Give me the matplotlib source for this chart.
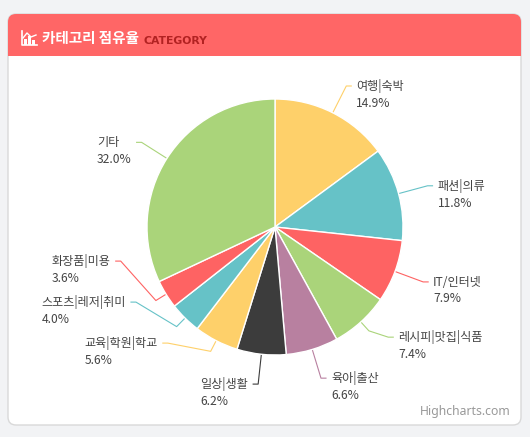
import numpy as np
import matplotlib
matplotlib.use('Agg')
import matplotlib.pyplot as plt
from matplotlib.patches import FancyBboxPatch, Rectangle

plt.rcParams['font.family'] = ['Noto Sans CJK KR', 'DejaVu Sans']

# Data
categories = ['여행|숙박', '패션|의류', 'IT/인터넷', '레시피|맛집|식품', '육아|출산',
              '일상|생활', '교육|학원|학교', '스포츠|레저|취미', '화장품|미용', '기타']
shares = [14.9, 11.8, 7.9, 7.4, 6.6, 6.2, 5.6, 4.0, 3.6, 32.0]
colors = ['#fed06a', '#66c2c7', '#fe6363', '#aad47a', '#b880a0',
          '#3c3c3c', '#fed06a', '#66c2c7', '#fe6363', '#aad47a']

# Layout (pixels, y measured from top)
W, H = 530, 437
cx, cy, r = 275, 227, 128
dist = 30
gap = 41


def Y(y):
    return H - y


fig = plt.figure(figsize=(W / 100, H / 100), dpi=100)
fig.patch.set_facecolor('#f2f3f5')
ax = fig.add_axes([0, 0, 1, 1])

# card + header
card = FancyBboxPatch((8, Y(425)), 513, 411, boxstyle='round,pad=0,rounding_size=8',
                      facecolor='white', edgecolor='#d9d9d9', linewidth=1, zorder=0)
ax.add_patch(card)
header = FancyBboxPatch((8, Y(56)), 513, 42, boxstyle='round,pad=0,rounding_size=8',
                        facecolor='#ff6666', edgecolor='none', zorder=1)
ax.add_patch(header)
ax.add_patch(Rectangle((8, Y(56)), 513, 12, facecolor='#ff6666', edgecolor='none', zorder=1))

# little chart icon
for bx, bh in [(24, 6), (28, 9), (32, 5)]:
    ax.add_patch(Rectangle((bx, Y(45)), 3, bh, facecolor='white', edgecolor='none', zorder=2))
ax.plot([22, 22, 37], [Y(31), Y(45), Y(45)], color='white', lw=1.2, zorder=2)
ax.plot([23, 27, 31, 36], [Y(38), Y(33), Y(37), Y(35)], color='white', lw=1.0, zorder=2)

ax.text(42, Y(38), '카테고리 점유율', color='white', fontsize=10.5, fontweight='bold',
        va='center', ha='left', zorder=3)
ax.text(143, Y(41), 'CATEGORY', color='#b22222', fontsize=7.8, fontweight='bold',
        va='center', ha='left', family=['DejaVu Sans'], zorder=3)

# pie
ax.pie(shares, colors=colors, startangle=90, counterclock=False,
       center=(cx, Y(cy)), radius=r, frame=True,
       wedgeprops=dict(edgecolor='white', linewidth=1, zorder=2))

# label placement
cum = np.cumsum(shares) - np.array(shares) / 2
theta = np.radians(90 - 3.6 * cum)
R = r + dist
ly = cy - R * np.sin(theta)
side = np.where(np.cos(theta) >= 0, 1, -1)

for s in (1, -1):
    idx = [i for i in np.argsort(-ly) if side[i] == s]
    prev = None
    for i in idx:
        ly[i] = min(ly[i], 387)
        if prev is not None:
            ly[i] = min(ly[i], prev - gap)
        prev = ly[i]

for i, (cat, val) in enumerate(zip(categories, shares)):
    dy = ly[i] - cy
    lx = cx + side[i] * np.sqrt(max(R ** 2 - dy ** 2, 0))
    ex, ey = cx + r * np.cos(theta[i]), cy - r * np.sin(theta[i])
    bx, by = cx + (r + 12) * np.cos(theta[i]), cy - (r + 12) * np.sin(theta[i])
    ax.plot([ex, bx, lx, lx + side[i] * 5], [Y(ey), Y(by), Y(ly[i]), Y(ly[i])],
            color=colors[i], lw=0.8, zorder=1.5)
    ax.text(lx + side[i] * 10, Y(ly[i] + 8.5), f'{cat}\n{val:.1f}%',
            ha='left' if side[i] > 0 else 'right', multialignment='left',
            va='center', fontsize=8.7, linespacing=1.35, color='#444444', zorder=3)

ax.text(511, Y(411), 'Highcharts.com', ha='right', va='center', fontsize=8.8,
        color='#999999', family=['Noto Sans', 'DejaVu Sans'], zorder=3)

ax.set_xlim(0, W)
ax.set_ylim(0, H)
ax.set_aspect('auto')
ax.axis('off')

fig.savefig('out.png', dpi=100, facecolor=fig.get_facecolor())
